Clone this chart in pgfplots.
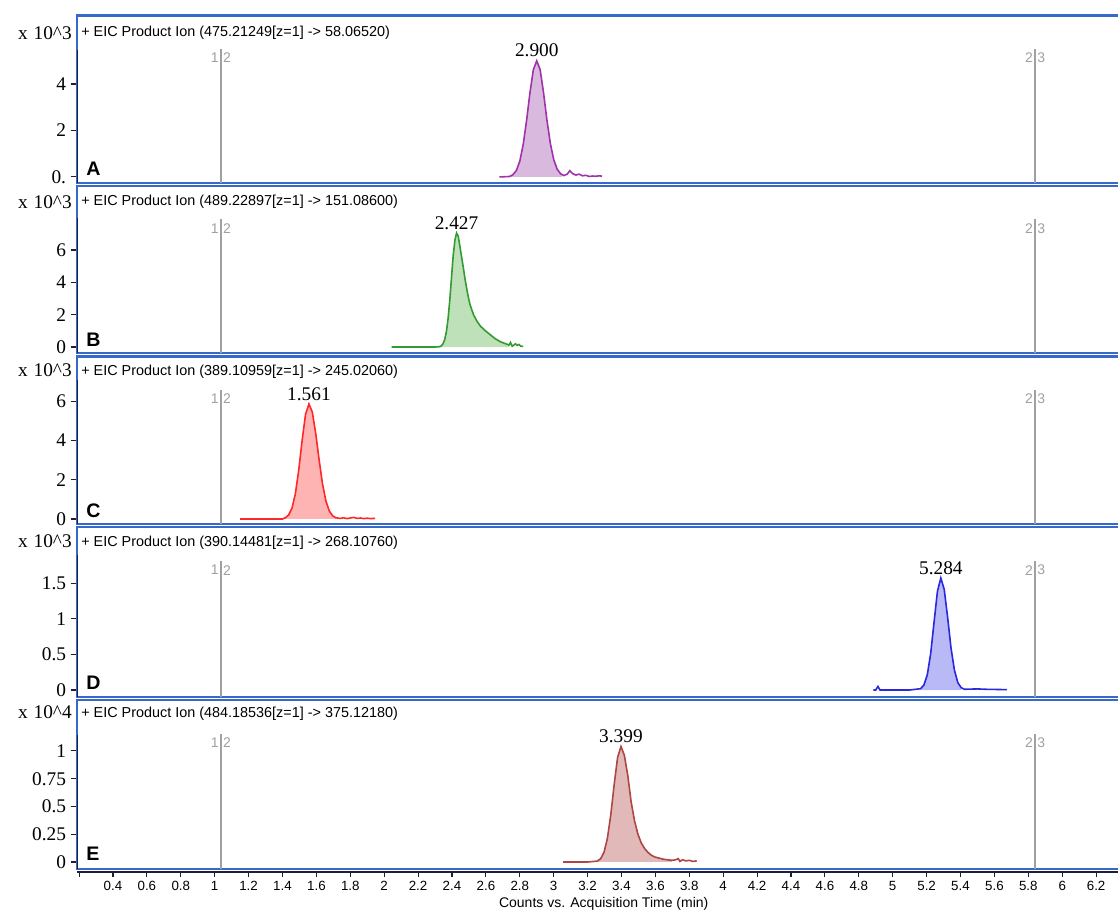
\documentclass[border=0pt]{standalone}
\usepackage{fontspec}
\setmainfont{Liberation Serif}
\newfontfamily\sans{Liberation Sans}
\usepackage{pgfplots}
\pgfplotsset{compat=1.18}

\definecolor{frameblue}{RGB}{55,105,200}
\definecolor{axdark}{RGB}{30,30,60}
\definecolor{gline}{RGB}{160,160,160}
\definecolor{cA}{RGB}{160,50,170}\definecolor{fA}{RGB}{218,185,222}
\definecolor{cB}{RGB}{50,155,50}\definecolor{fB}{RGB}{190,225,185}
\definecolor{cC}{RGB}{255,40,40}\definecolor{fC}{RGB}{255,180,180}
\definecolor{cD}{RGB}{40,40,225}\definecolor{fD}{RGB}{185,185,245}
\definecolor{cE}{RGB}{175,70,70}\definecolor{fE}{RGB}{225,185,185}

\newcommand{\serif}{\fontsize{14.5}{16}\selectfont}
\newcommand{\markers}{%
  \draw[gline,line width=1.5pt] ({axis cs:1.037,0}|-{rel axis cs:0,0.80}) -- ({axis cs:1.037,0}|-{rel axis cs:0,0});
  \draw[gline,line width=1.5pt] ({axis cs:5.84,0}|-{rel axis cs:0,0.80}) -- ({axis cs:5.84,0}|-{rel axis cs:0,0});
  \node[anchor=east,gline,font=\sans\fontsize{10.5}{12}\selectfont,inner sep=1.5pt] at ({axis cs:1.037,0}|-{rel axis cs:0,0.746}) {1};
  \node[anchor=west,gline,font=\sans\fontsize{10.5}{12}\selectfont,inner sep=1.5pt] at ({axis cs:1.037,0}|-{rel axis cs:0,0.746}) {2};
  \node[anchor=east,gline,font=\sans\fontsize{10.5}{12}\selectfont,inner sep=1.5pt] at ({axis cs:5.84,0}|-{rel axis cs:0,0.746}) {2};
  \node[anchor=west,gline,font=\sans\fontsize{10.5}{12}\selectfont,inner sep=1.5pt] at ({axis cs:5.84,0}|-{rel axis cs:0,0.746}) {3};
}

\pgfplotsset{panel/.style={
  scale only axis, width=789.45pt, xmin=0.19, xmax=6.40,
  xtick=\empty, ytick pos=left, tick align=outside,
  major tick length=5pt,
  axis line style={draw=frameblue, line width=1.6pt},
  tick style={axdark, line width=0.8pt},
  yticklabel style={font=\serif},
  /pgf/number format/assume math mode=true,
  clip=false, anchor=south west
}}

\begin{document}
\begin{tikzpicture}
\useasboundingbox (0,0) rectangle (838.5pt,684pt);

% ---------------- A ----------------
\begin{axis}[panel, at={(58.05pt,546.75pt)}, height=125.6pt,
  ymin=-0.26, ymax=6.95, ytick={0,2,4}, yticklabels={0.,2,4}]
\markers
\addplot[fill=fA, draw=none] coordinates {(2.74,0.02) (2.76,0.1) (2.78,0.28) (2.80,0.68) (2.82,1.39) (2.84,2.43) (2.86,3.63) (2.88,4.62) (2.90,5.0) (2.92,4.62) (2.94,3.63) (2.96,2.45) (2.98,1.45) (3.00,0.75) (3.02,0.34) (3.04,0.14) (3.05,0.08)} \closedcycle;
\addplot[cA, line width=1.2pt] coordinates {(2.68,0) (2.74,0.02) (2.76,0.1) (2.78,0.28) (2.80,0.68) (2.82,1.39) (2.84,2.43) (2.86,3.63) (2.88,4.62) (2.90,5.0) (2.92,4.62) (2.94,3.63) (2.96,2.45) (2.98,1.45) (3.00,0.75) (3.02,0.34) (3.04,0.14) (3.06,0.06) (3.08,0.12) (3.095,0.27) (3.11,0.15) (3.13,0.08) (3.15,0.12) (3.17,0.05) (3.19,0.07) (3.21,0.02) (3.23,0.04) (3.25,0.03) (3.27,0.05) (3.285,0.03)};
\node[anchor=south, font=\serif, inner sep=1pt, yshift=1.5pt] at (axis cs:2.90,5.0) {2.900};
\draw[axdark, line width=1.2pt] (rel axis cs:0,0) -- (axis cs:0.19,5.46);
\end{axis}

% ---------------- B ----------------
\begin{axis}[panel, at={(58.05pt,419.25pt)}, height=125.25pt,
  ymin=-0.37, ymax=9.96, ytick={0,2,4,6}, yticklabels={0,2,4,6}]
\markers
\addplot[fill=fB, draw=none] coordinates {(2.30,0) (2.327,0.02) (2.337,0.07) (2.347,0.2) (2.357,0.46) (2.367,0.95) (2.377,1.76) (2.387,2.9) (2.397,4.28) (2.407,5.65) (2.417,6.6) (2.427,7.05) (2.437,6.85) (2.447,6.2) (2.457,5.55) (2.467,4.9) (2.477,4.2) (2.487,3.6) (2.497,3.05) (2.507,2.6) (2.527,2.0) (2.547,1.6) (2.567,1.3) (2.597,1.0) (2.627,0.75) (2.657,0.5) (2.687,0.32) (2.717,0.2) (2.737,0.12)} \closedcycle;
\addplot[cB, line width=1.2pt] coordinates {(2.044,0) (2.30,0) (2.327,0.02) (2.337,0.07) (2.347,0.2) (2.357,0.46) (2.367,0.95) (2.377,1.76) (2.387,2.9) (2.397,4.28) (2.407,5.65) (2.417,6.6) (2.427,7.05) (2.437,6.85) (2.447,6.2) (2.457,5.55) (2.467,4.9) (2.477,4.2) (2.487,3.6) (2.497,3.05) (2.507,2.6) (2.527,2.0) (2.547,1.6) (2.567,1.3) (2.597,1.0) (2.627,0.75) (2.657,0.5) (2.687,0.32) (2.717,0.2) (2.737,0.12) (2.745,0.28) (2.755,0.05) (2.765,0.12) (2.775,0.2) (2.785,0.1) (2.795,0.16) (2.805,0.06) (2.82,0.03)};
\node[anchor=south, font=\serif, inner sep=1pt, yshift=1.5pt] at (axis cs:2.427,7.05) {2.427};
\draw[axdark, line width=1.2pt] (rel axis cs:0,0) -- (axis cs:0.19,7.98);
\end{axis}

% ---------------- C ----------------
\begin{axis}[panel, at={(58.05pt,291pt)}, height=125.6pt,
  ymin=-0.255, ymax=8.29, ytick={0,2,4,6}, yticklabels={0,2,4,6}]
\markers
\addplot[fill=fC, draw=none] coordinates {(1.416,0.06) (1.436,0.2) (1.456,0.55) (1.476,1.29) (1.496,2.51) (1.516,4.02) (1.536,5.34) (1.556,5.87) (1.576,5.45) (1.596,4.37) (1.616,3.02) (1.636,1.8) (1.656,0.92) (1.676,0.41) (1.696,0.16) (1.716,0.06)} \closedcycle;
\addplot[cC, line width=1.2pt] coordinates {(1.15,0) (1.40,0) (1.416,0.06) (1.436,0.2) (1.456,0.55) (1.476,1.29) (1.496,2.51) (1.516,4.02) (1.536,5.34) (1.556,5.87) (1.576,5.45) (1.596,4.37) (1.616,3.02) (1.636,1.8) (1.656,0.92) (1.676,0.41) (1.696,0.16) (1.716,0.06) (1.74,0.03) (1.76,0.06) (1.78,0.02) (1.80,0.05) (1.82,0.08) (1.84,0.03) (1.86,0.05) (1.88,0.02) (1.90,0.04) (1.92,0.02) (1.946,0.03)};
\node[anchor=south, font=\serif, inner sep=1pt, yshift=1.5pt] at (axis cs:1.556,5.87) {1.561};
\draw[axdark, line width=1.2pt] (rel axis cs:0,0) -- (axis cs:0.19,7.1);
\end{axis}

% ---------------- D ----------------
\begin{axis}[panel, at={(58.05pt,161.25pt)}, height=127.5pt,
  ymin=-0.098, ymax=2.286, ytick={0,0.5,1,1.5}, yticklabels={0,0.5,1,1.5}]
\markers
\addplot[fill=fD, draw=none] coordinates {(5.164,0.018) (5.184,0.069) (5.204,0.212) (5.224,0.51) (5.244,0.953) (5.264,1.385) (5.284,1.57) (5.304,1.41) (5.324,1.02) (5.344,0.59) (5.364,0.28) (5.384,0.105) (5.404,0.032)} \closedcycle;
\addplot[cD, line width=1.2pt] coordinates {(4.886,0) (4.90,0.0) (4.913,0.05) (4.925,0.0) (5.0,0) (5.10,0) (5.164,0.018) (5.184,0.069) (5.204,0.212) (5.224,0.51) (5.244,0.953) (5.264,1.385) (5.284,1.57) (5.304,1.41) (5.324,1.02) (5.344,0.59) (5.364,0.28) (5.384,0.105) (5.404,0.032) (5.424,0.01) (5.45,0.012) (5.50,0.015) (5.55,0.01) (5.60,0.008) (5.673,0.005)};
\node[anchor=south, font=\serif, inner sep=1pt, yshift=1.5pt] at (axis cs:5.284,1.57) {5.284};
\draw[axdark, line width=1.2pt] (rel axis cs:0,0) -- (axis cs:0.19,1.89);
\end{axis}

% ---------------- E ----------------
\begin{axis}[panel, at={(58.05pt,32.25pt)}, height=126.75pt,
  ymin=-0.063, ymax=1.459, ytick={0,0.25,0.5,0.75,1}, yticklabels={0,0.25,0.5,0.75,1}]
\markers
\addplot[fill=fE, draw=none] coordinates {(3.257,0.008) (3.277,0.03) (3.297,0.088) (3.317,0.214) (3.337,0.427) (3.357,0.70) (3.377,0.942) (3.397,1.04) (3.417,0.96) (3.437,0.78) (3.457,0.54) (3.477,0.37) (3.497,0.25) (3.517,0.17) (3.537,0.12) (3.557,0.085) (3.577,0.06) (3.597,0.045) (3.647,0.025) (3.697,0.015)} \closedcycle;
\addplot[cE, line width=1.2pt] coordinates {(3.055,0) (3.20,0) (3.257,0.008) (3.277,0.03) (3.297,0.088) (3.317,0.214) (3.337,0.427) (3.357,0.70) (3.377,0.942) (3.397,1.04) (3.417,0.96) (3.437,0.78) (3.457,0.54) (3.477,0.37) (3.497,0.25) (3.517,0.17) (3.537,0.12) (3.557,0.085) (3.577,0.06) (3.597,0.045) (3.647,0.025) (3.697,0.015) (3.72,0.02) (3.735,0.03) (3.745,0.005) (3.76,0.02) (3.78,0.01) (3.80,0.015) (3.82,0.005) (3.844,0.01)};
\node[anchor=south, font=\serif, inner sep=1pt, yshift=1.5pt] at (axis cs:3.397,1.04) {3.399};
\draw[axdark, line width=1.2pt] (rel axis cs:0,0) -- (axis cs:0.19,1.14);
\end{axis}

% ---------------- x axis ----------------
\begin{axis}[scale only axis, width=789.45pt, height=4pt, at={(58.05pt,30pt)}, anchor=south west,
  xmin=0.19, xmax=6.40, ymin=0, ymax=1,
  axis x line=bottom, axis y line=none,
  x axis line style={-, draw=axdark, line width=0.8pt},
  xtick={0.2,0.4,...,6.4},
  xticklabels={,0.4,0.6,0.8,1,1.2,1.4,1.6,1.8,2,2.2,2.4,2.6,2.8,3,3.2,3.4,3.6,3.8,4,4.2,4.4,4.6,4.8,5,5.2,5.4,5.6,5.8,6,6.2,},
  tick align=outside, major tick length=3.5pt,
  tick style={axdark, line width=0.8pt},
  /pgf/number format/assume math mode=true,
  xticklabel style={font=\sans\fontsize{10}{12}\selectfont},
  xlabel={Counts vs. Acquisition Time (min)},
  xlabel style={font=\sans\fontsize{10.5}{12}\selectfont, inner sep=0pt, yshift=-1.5pt},
  clip=false]
\addplot[draw=none] coordinates {(1,0.5)};
\end{axis}

% ---------------- texts ----------------
\foreach \yy/\tt in {659.25/{475.21249[z=1] -> 58.06520}, 532.5/{489.22897[z=1] -> 151.08600}, 405/{389.10959[z=1] -> 245.02060}, 276.75/{390.14481[z=1] -> 268.10760}, 148.5/{484.18536[z=1] -> 375.12180}}{
  \node[anchor=west, inner sep=0pt, font=\sans\fontsize{10.8}{12}\selectfont] at (60.75pt,\yy pt) {+ EIC Product Ion (\tt)};
}
\foreach \yy/\ee in {659.25/3, 532.5/3, 406.5/3, 278.25/3, 150/4}{
  \node[anchor=east, inner sep=0pt, font=\serif] at (54pt,\yy pt) {x\hspace{0.3em}10\textasciicircum\ee};
}
\foreach \yy/\ll in {552/A, 423.75/B, 295.5/C, 166.5/D, 38.25/E}{
  \node[anchor=base west, inner sep=0pt, font=\sans\bfseries\fontsize{14.7}{16}\selectfont] at (64.5pt,\yy pt) {\ll};
}
\end{tikzpicture}
\end{document}
